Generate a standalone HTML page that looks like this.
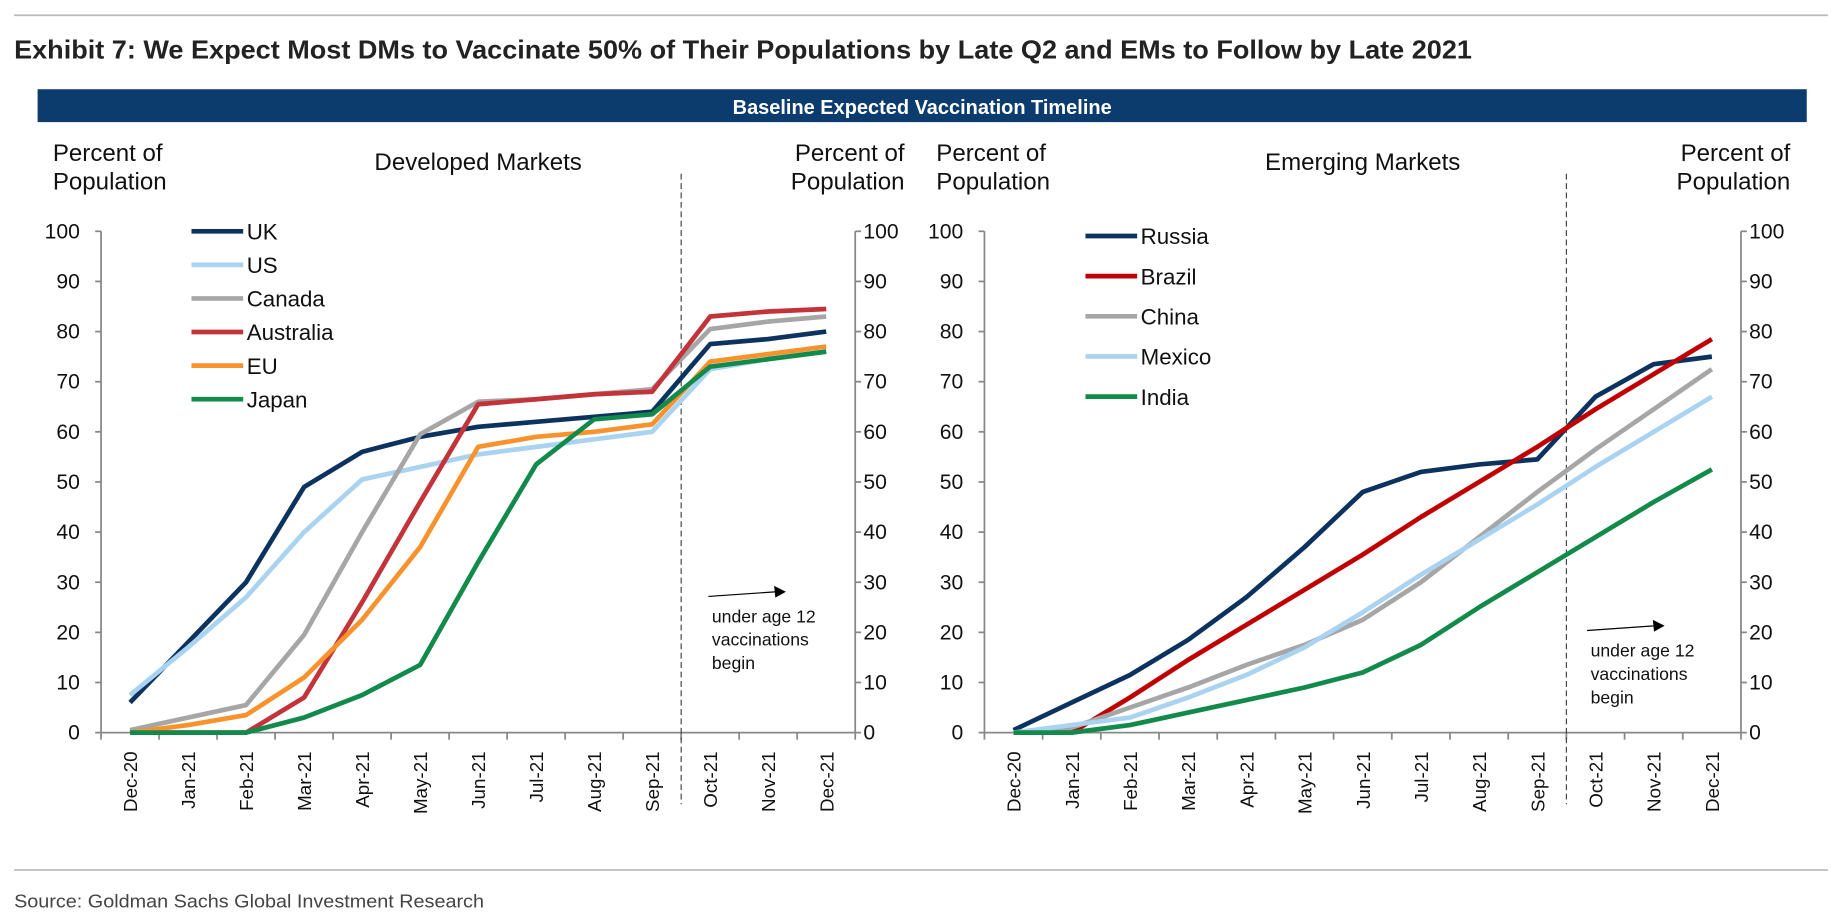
<!DOCTYPE html>
<html><head><meta charset="utf-8"><style>
html,body{margin:0;padding:0;background:#fff;}
svg{display:block;font-family:"Liberation Sans",sans-serif;}
</style></head><body>
<svg id="root" width="1842" height="924" viewBox="0 0 1568 787" preserveAspectRatio="none" xmlns="http://www.w3.org/2000/svg">
<line x1="12" y1="13" x2="1556" y2="13" stroke="#bbb" stroke-width="1.5"/>
<text x="12" y="50" font-size="22" font-weight="bold" fill="#222" textLength="1241" lengthAdjust="spacingAndGlyphs">Exhibit 7: We Expect Most DMs to Vaccinate 50% of Their Populations by Late Q2 and EMs to Follow by Late 2021</text>
<rect x="32" y="76" width="1506" height="28" fill="#0c3b6e"/>
<text x="785" y="97" font-size="17" font-weight="bold" fill="#fff" text-anchor="middle">Baseline Expected Vaccination Timeline</text>
<line x1="12" y1="741" x2="1556" y2="741" stroke="#bbb" stroke-width="1.5"/>
<text x="12" y="773" font-size="16" fill="#444" textLength="400" lengthAdjust="spacingAndGlyphs">Source: Goldman Sachs Global Investment Research</text>
<g id="charts"></g>
</svg>
<script>
const months = ["Dec-20","Jan-21","Feb-21","Mar-21","Apr-21","May-21","Jun-21","Jul-21","Aug-21","Sep-21","Oct-21","Nov-21","Dec-21"];
const yTicks = [0,10,20,30,40,50,60,70,80,90,100];
const dmNames = ["UK","US","Canada","Australia","EU","Japan"];
const dmColors = ["#0c3360","#a9d3f0","#a6a6a6","#c3343a","#f7922d","#128a4b"];
const ukVals = [6,18,30,49,56,59,61,62,63,64,77.5,78.5,80];
const usVals = [7.5,17,27,40,50.5,53,55.5,57,58.5,60,72.5,74.5,76];
const canadaVals = [0.5,3,5.5,19.5,40,59.5,66,66.5,67.5,68.5,80.5,82,83];
const australiaVals = [0,0,0,7,26,46,65.5,66.5,67.5,68,83,84,84.5];
const euVals = [0,1.5,3.5,11,22.5,37,57,59,60,61.5,74,75.5,77];
const japanVals = [0,0,0,3,7.5,13.5,34,53.5,62.5,63.5,73,74.5,76];
const emNames = ["Russia","Brazil","China","Mexico","India"];
const emColors = ["#0c3360","#c00000","#a6a6a6","#a9d3f0","#128a4b"];
const russiaVals = [0.5,6,11.5,18.5,27,37,48,52,53.5,54.5,67,73.5,75];
const brazilVals = [0,0,7,14.5,21.5,28.5,35.5,43,50,57,64.5,71.5,78.5];
const chinaVals = [0,1,5,9,13.5,17.5,22.5,30,39,48,56.5,64.5,72.5];
const mexicoVals = [0,1.5,3,7,11.5,17,24,31.5,38.5,45.5,53,60,67];
const indiaVals = [0,0,1.5,4,6.5,9,12,17.5,25,32,39,46,52.5];

const NS="http://www.w3.org/2000/svg";
const root=document.getElementById('charts');
function mk(tag,attrs,parent,txt){const e=document.createElementNS(NS,tag);for(const k in attrs)e.setAttribute(k,attrs[k]);if(txt!==undefined)e.textContent=txt;(parent||root).appendChild(e);return e;}

function chart(o){
  const g=mk('g',{});
  
  
  const L=o.left,R=o.right,y0=624,y100=197;
  const band=(R-L)/months.length;
  const x=i=>L+band*(i+0.5);
  const y=v=>y0-(v/100)*(y0-y100);
  const ax=mk('path',{d:`M${L},${y100} V${y0} H${R} V${y100}`,fill:'none',stroke:'#888','stroke-width':1.5},g);
  
  
  yTicks.forEach(t=>{
    mk('line',{x1:L-5,x2:L,y1:y(t),y2:y(t),stroke:'#888','stroke-width':1.5},g);
    mk('line',{x1:R,x2:R+5,y1:y(t),y2:y(t),stroke:'#888','stroke-width':1.5},g);
    const a=mk('text',{x:L-18,y:y(t)+6,'font-size':18,'text-anchor':'end',fill:'#111'},g,t);
    
    
    const b=mk('text',{x:R+7,y:y(t)+6,'font-size':18,fill:'#111'},g,t);
    
    
  });
  for(let i=0;i<=months.length;i++){mk('line',{x1:L+band*i,x2:L+band*i,y1:y0,y2:y0+6,stroke:'#888','stroke-width':1.5},g);}
  months.forEach((m,i)=>{
    const t=mk('text',{transform:`translate(${x(i)+6},640) rotate(-90)`,'font-size':16,'text-anchor':'end',fill:'#111'},g,m);
    
    
  });
  const dx=L+band*10;
  const d=mk('line',{x1:dx,x2:dx,y1:148,y2:685,stroke:'#444','stroke-width':1,'stroke-dasharray':'5,3'},g);
  
  
  const h1=mk('text',{x:L-41,y:137,'font-size':20.5,fill:'#111'},g);
  
  
  mk('tspan',{x:L-41,dy:0},h1,'Percent of');mk('tspan',{x:L-41,dy:24.5},h1,'Population');
  const h2=mk('text',{x:R+42,y:137,'font-size':20.5,fill:'#111','text-anchor':'end'},g);
  
  
  mk('tspan',{x:R+42,dy:0},h2,'Percent of');mk('tspan',{x:R+42,dy:24.5},h2,'Population');
  const h3=mk('text',{x:(L+R)/2,y:145,'font-size':20.5,fill:'#111','text-anchor':'middle'},g,o.title);
  
  
  o.series.forEach((s,k)=>{
    const p=mk('polyline',{points:s.map((v,i)=>x(i)+','+y(v)).join(' '),fill:'none',stroke:o.colors[k],'stroke-width':4,'stroke-linejoin':'round'},g);
    
    
  });
  o.names.forEach((n,k)=>{
    const ly=o.legY+k*o.legGap;
    const li=mk('line',{x1:o.legX,x2:o.legX+44,y1:ly,y2:ly,stroke:o.colors[k],'stroke-width':4},g);
    
    
    const lt=mk('text',{x:o.legX+47,y:ly+7,'font-size':19,fill:'#111'},g,n);
    
    
  });
  const ax2=o.annX,ay=o.annY;
  const ar=mk('line',{x1:ax2-3,y1:ay-22,x2:ax2+55,y2:ay-26,stroke:'#000','stroke-width':1},g);
  
  
  mk('polygon',{points:`${ax2+63},${ay-26} ${ax2+53},${ay-31} ${ax2+54},${ay-21}`,fill:'#000'},g);
  const at=mk('text',{x:ax2,y:ay,'font-size':15,fill:'#111'},g);
  
  
  mk('tspan',{x:ax2,dy:0},at,'under age 12');mk('tspan',{x:ax2,dy:20},at,'vaccinations');mk('tspan',{x:ax2,dy:20},at,'begin');
}
chart({id:'developed',left:86,right:728,title:'Developed Markets',names:dmNames,colors:dmColors,
  series:[ukVals,usVals,canadaVals,australiaVals,euVals,japanVals],legX:163,legY:197,legGap:28.6,annX:606,annY:530});
chart({id:'emerging',left:838,right:1482,title:'Emerging Markets',names:emNames,colors:emColors,
  series:[russiaVals,brazilVals,chinaVals,mexicoVals,indiaVals],legX:924,legY:201,legGap:34.2,annX:1354,annY:559});
</script>
</body></html>
